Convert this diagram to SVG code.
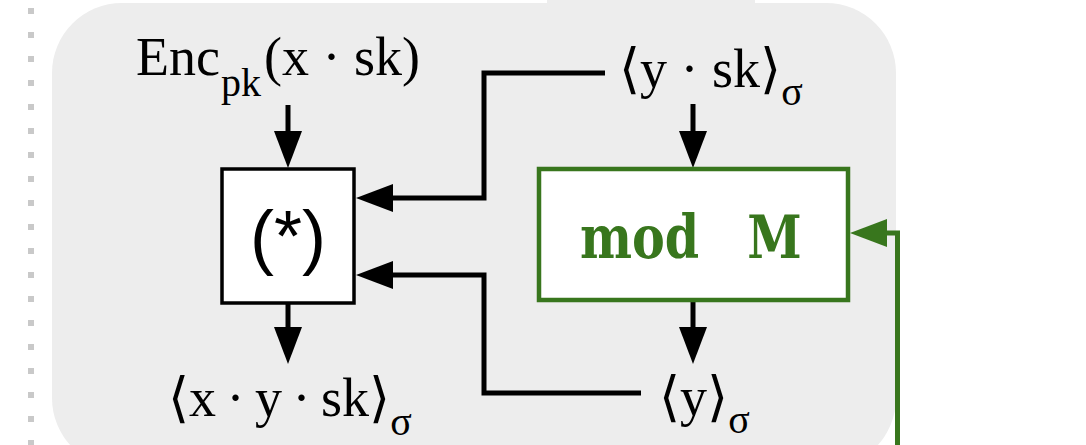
<svg xmlns="http://www.w3.org/2000/svg" width="1086" height="445" viewBox="0 0 1086 445">
<style>
.lbl{font-family:"Liberation Serif","DejaVu Serif","DejaVu Sans",serif;font-size:54px;fill:#000}
.sub{font-size:40px}
.conn{fill:none;stroke:#000;stroke-width:5}
.green{fill:none;stroke:#38761d;stroke-width:5}
</style>
<defs>
<marker id="ah" markerUnits="userSpaceOnUse" markerWidth="37" markerHeight="28" refX="0" refY="14" orient="auto" overflow="visible">
<path d="M0,0 L37,14 L0,28 z" fill="#000"/>
</marker>
<marker id="ahg" markerUnits="userSpaceOnUse" markerWidth="37" markerHeight="28" refX="0" refY="14" orient="auto" overflow="visible">
<path d="M0,0 L37,14 L0,28 z" fill="#38761d"/>
</marker>
</defs>
<g id="background">
<line x1="31" y1="8" x2="31" y2="445" stroke="#c9c9c9" stroke-width="6" stroke-dasharray="6 18"/>
<rect x="52" y="3" width="844" height="465" rx="70" ry="70" fill="#ededed"/>
<rect x="547" y="-30" width="208" height="45" rx="12" ry="12" fill="#ededed"/>
</g>
<g id="connectors">
<path class="conn" d="M288,105 V131" marker-end="url(#ah)"/>
<path class="conn" d="M288,303 V327" marker-end="url(#ah)"/>
<path class="conn" d="M693,104 V131" marker-end="url(#ah)"/>
<path class="conn" d="M693,300 V327" marker-end="url(#ah)"/>
<path class="conn" d="M605,73 H484 V198 H393" marker-end="url(#ah)"/>
<path class="conn" d="M641,393 H484 V275 H393" marker-end="url(#ah)"/>
<path class="green" d="M897.5,445 V233 H887" marker-end="url(#ahg)"/>
</g>
<g id="node-enc">
<text class="lbl" x="136" y="75">Enc<tspan class="sub" x="221" y="96">pk</tspan><tspan x="264" y="75">(x · sk)</tspan></text>
</g>
<g id="node-ysk">
<text class="lbl" x="619" y="87">⟨y · sk⟩<tspan class="sub" y="105">σ</tspan></text>
</g>
<g id="node-star">
<rect x="222" y="169" width="132" height="134" fill="#fff" stroke="#000" stroke-width="3.5"/>
<text x="288" y="261" text-anchor="middle" font-family="Liberation Sans, Arial, sans-serif" font-size="72">(*)</text>
</g>
<g id="node-mod">
<rect x="539" y="169" width="309" height="131" fill="#fff" stroke="#38761d" stroke-width="4.5"/>
<text transform="translate(580,258) scale(0.82,1)" x="0" y="0" font-family="DejaVu Serif, serif" font-weight="bold" font-size="60" fill="#38761d">mod<tspan x="204">M</tspan></text>
</g>
<g id="node-xysk">
<text class="lbl" x="168" y="416" word-spacing="-3">⟨x · y · sk⟩<tspan class="sub" y="435" word-spacing="0">σ</tspan></text>
</g>
<g id="node-y">
<text class="lbl" x="659" y="415">⟨y⟩<tspan class="sub" y="433">σ</tspan></text>
</g>
</svg>
